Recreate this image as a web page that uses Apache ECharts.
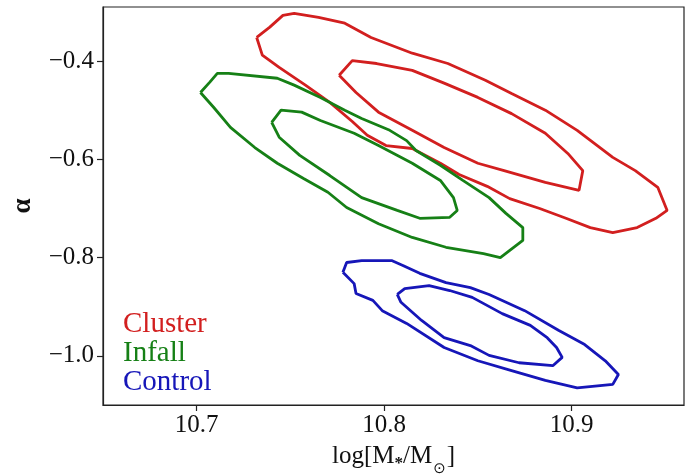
<!DOCTYPE html>
<html>
<head>
<meta charset="utf-8">
<script src="https://cdn.jsdelivr.net/npm/echarts@6/dist/echarts.min.js"></script>
<style>html,body{margin:0;padding:0;background:#fff}#c{width:690px;height:475px}</style>
</head>
<body>
<div id="c"></div>
<script>
// ---- data ----
const xTicks = [10.7, 10.8, 10.9];
const yTicks = [-1.0, -0.8, -0.6, -0.4];
const legendNames = ['Cluster', 'Infall', 'Control'];

const clusterOuter = [[10.732,-0.352],[10.739,-0.331],[10.746,-0.307],[10.752,-0.303],[10.765,-0.311],[10.779,-0.323],[10.793,-0.352],[10.815,-0.384],[10.834,-0.405],[10.854,-0.439],[10.868,-0.466],[10.886,-0.500],[10.903,-0.541],[10.922,-0.596],[10.934,-0.623],[10.946,-0.657],[10.951,-0.704],[10.945,-0.720],[10.935,-0.739],[10.922,-0.749],[10.910,-0.739],[10.897,-0.720],[10.883,-0.700],[10.867,-0.680],[10.855,-0.655],[10.840,-0.631],[10.830,-0.608],[10.815,-0.578],[10.801,-0.572],[10.791,-0.551],[10.783,-0.523],[10.771,-0.484],[10.758,-0.449],[10.744,-0.413],[10.735,-0.388],[10.732,-0.352]];
const clusterInner = [[10.776,-0.429],[10.783,-0.399],[10.796,-0.405],[10.815,-0.419],[10.832,-0.445],[10.850,-0.474],[10.868,-0.507],[10.886,-0.547],[10.898,-0.588],[10.906,-0.623],[10.904,-0.663],[10.886,-0.647],[10.864,-0.623],[10.850,-0.608],[10.832,-0.576],[10.815,-0.541],[10.797,-0.504],[10.785,-0.464],[10.776,-0.429]];
const infallOuter = [[10.702,-0.464],[10.707,-0.443],[10.711,-0.425],[10.717,-0.425],[10.743,-0.435],[10.752,-0.449],[10.766,-0.474],[10.779,-0.500],[10.788,-0.517],[10.803,-0.541],[10.812,-0.562],[10.817,-0.582],[10.830,-0.612],[10.842,-0.643],[10.856,-0.678],[10.865,-0.710],[10.874,-0.739],[10.874,-0.765],[10.862,-0.800],[10.853,-0.792],[10.833,-0.779],[10.815,-0.759],[10.797,-0.731],[10.780,-0.698],[10.770,-0.667],[10.757,-0.639],[10.743,-0.608],[10.731,-0.576],[10.718,-0.535],[10.709,-0.494],[10.702,-0.464]];
const infallInner = [[10.740,-0.525],[10.745,-0.500],[10.756,-0.504],[10.766,-0.521],[10.784,-0.547],[10.797,-0.572],[10.815,-0.608],[10.830,-0.643],[10.837,-0.678],[10.839,-0.704],[10.835,-0.718],[10.819,-0.720],[10.807,-0.704],[10.788,-0.678],[10.771,-0.633],[10.755,-0.592],[10.744,-0.555],[10.740,-0.525]];
const controlOuter = [[10.778,-0.830],[10.780,-0.810],[10.788,-0.806],[10.804,-0.806],[10.810,-0.816],[10.819,-0.832],[10.833,-0.851],[10.846,-0.861],[10.856,-0.875],[10.875,-0.908],[10.893,-0.948],[10.907,-0.977],[10.918,-1.010],[10.925,-1.038],[10.922,-1.058],[10.903,-1.065],[10.886,-1.050],[10.868,-1.030],[10.850,-1.010],[10.832,-0.983],[10.812,-0.934],[10.799,-0.908],[10.794,-0.887],[10.785,-0.873],[10.784,-0.853],[10.778,-0.830]];
const controlInner = [[10.807,-0.875],[10.811,-0.863],[10.824,-0.857],[10.835,-0.867],[10.847,-0.881],[10.863,-0.914],[10.878,-0.938],[10.887,-0.963],[10.892,-0.983],[10.895,-1.003],[10.890,-1.020],[10.872,-1.014],[10.856,-0.999],[10.846,-0.979],[10.832,-0.963],[10.820,-0.928],[10.809,-0.891],[10.807,-0.875]];

// ---- styling ----
const RED = '#d21f1f', GREEN = '#168016', BLUE = '#1616b8';
const SERIF = 'Liberation Serif, Times New Roman, serif';

function contour(name, data, color) {
  return {
    type: 'line', name: name, data: data, showSymbol: false, symbol: 'none',
    lineStyle: { color: color, width: 2.8 }, itemStyle: { color: color },
    smooth: false, silent: true, animation: false
  };
}

const chart = echarts.init(document.getElementById('c'), null, { renderer: 'canvas' });
chart.setOption({
  animation: false,
  backgroundColor: '#fff',
  grid: { left: 103, right: 6, top: 7, bottom: 70, show: true, borderColor: '#222', borderWidth: 1.2, containLabel: false, outerBoundsMode: 'none' },
  legend: {
    orient: 'vertical', left: 112, top: 305, itemWidth: 0, itemHeight: 0, itemGap: 0,
    selectedMode: false,
    textStyle: { fontFamily: SERIF, fontSize: 29, lineHeight: 24 },
    data: [
      { name: legendNames[0], textStyle: { color: RED } },
      { name: legendNames[1], textStyle: { color: GREEN } },
      { name: legendNames[2], textStyle: { color: BLUE } }
    ]
  },
  xAxis: {
    type: 'value', min: 10.65, max: 10.96,
    axisLine: { show: true, onZero: false, lineStyle: { color: '#222', width: 1.2 } },
    axisTick: { show: true, length: 6, customValues: xTicks, lineStyle: { color: '#222', width: 1.2 } },
    axisLabel: { customValues: xTicks, formatter: v => v.toFixed(1), fontFamily: SERIF, fontSize: 25, color: '#111', margin: 8 },
    splitLine: { show: false },
    name: '{n|log[M}{a|*}{n|/M}{o|⊙}{n|]}',
    nameLocation: 'middle', nameGap: 36, nameMoveOverlap: false,
    nameTextStyle: {
      fontFamily: SERIF, fontSize: 25, color: '#111',
      rich: {
        n: { fontFamily: SERIF, fontSize: 25, color: '#111', lineHeight: 30 },
        a: { fontFamily: SERIF, fontSize: 17, fontWeight: 'bold', color: '#111', lineHeight: 17, padding: [16, 0, 0, 0] },
        o: { fontFamily: 'DejaVu Sans', fontSize: 15, color: '#111', lineHeight: 15, padding: [27, 1, 0, 1] }
      }
    }
  },
  yAxis: {
    type: 'value', min: -1.10, max: -0.29,
    axisLine: { show: true, onZero: false, lineStyle: { color: '#222', width: 1.2 } },
    axisTick: { show: true, length: 6, customValues: yTicks, lineStyle: { color: '#222', width: 1.2 } },
    axisLabel: { customValues: yTicks, formatter: v => (v < 0 ? '\u2212' : '') + Math.abs(v).toFixed(1), fontFamily: SERIF, fontSize: 25, color: '#111', margin: 9 },
    splitLine: { show: false },
    name: 'α', nameLocation: 'middle', nameGap: 66, nameRotate: 90, nameMoveOverlap: false,
    nameTextStyle: { fontFamily: SERIF, fontSize: 27, fontWeight: 'bold', color: '#111' }
  },
  series: [
    contour(legendNames[0], clusterOuter, RED),
    contour(legendNames[0], clusterInner, RED),
    contour(legendNames[1], infallOuter, GREEN),
    contour(legendNames[1], infallInner, GREEN),
    contour(legendNames[2], controlOuter, BLUE),
    contour(legendNames[2], controlInner, BLUE)
  ]
});
</script>
</body>
</html>
